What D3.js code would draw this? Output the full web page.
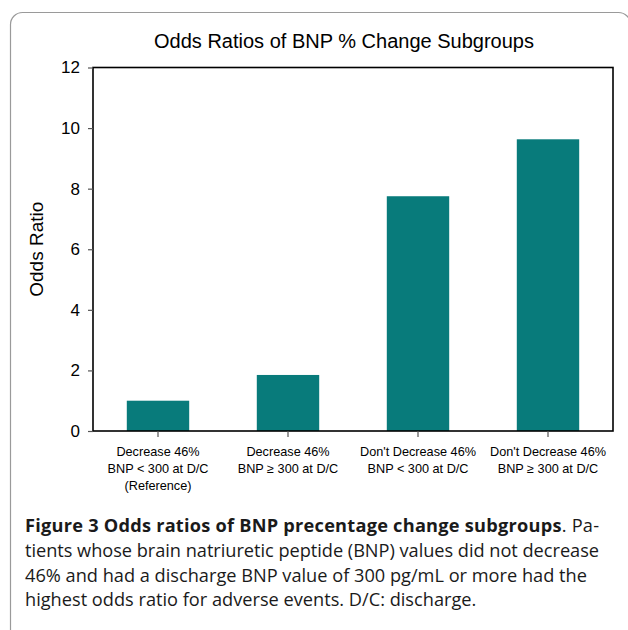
<!DOCTYPE html>
<html>
<head>
<meta charset="utf-8">
<script src="https://cdn.jsdelivr.net/npm/d3@7"></script>
<style>
  body { margin: 0; background: #fff; }
  svg { display: block; }
</style>
</head>
<body>
<div id="chart"></div>
<script>
  // chart values
  var categories = ["g1", "g2", "g3", "g4"];
  var categoryLabels = [
    ["Decrease 46%", "BNP < 300 at D/C", "(Reference)"],
    ["Decrease 46%", "BNP \u2265 300 at D/C"],
    ["Don't Decrease 46%", "BNP < 300 at D/C"],
    ["Don't Decrease 46%", "BNP \u2265 300 at D/C"]
  ];
  var oddsRatios = [1.0, 1.85, 7.75, 9.63];
  var yTicks = [0, 2, 4, 6, 8, 10, 12];

  var chartTitle = "Odds Ratios of BNP % Change Subgroups";
  var yTitle = "Odds Ratio";
  var captionBold = "Figure 3 Odds ratios of BNP precentage change subgroups";
  var captionLines = [
    ". Pa-",
    "tients whose brain natriuretic peptide (BNP) values did not decrease",
    "46% and had a discharge BNP value of 300 pg/mL or more had the",
    "highest odds ratio for adverse events. D/C: discharge."
  ];

  var W = 628, H = 630;
  var plot = { left: 93, right: 613, top: 67.5, bottom: 431 };

  var svg = d3.select("#chart").append("svg")
    .attr("width", W)
    .attr("height", H);

  // rounded frame round the figure
  svg.append("rect")
    .attr("x", 10.5)
    .attr("y", 12.5)
    .attr("width", 620)
    .attr("height", 630)
    .attr("rx", 12)
    .attr("fill", "none")
    .attr("stroke", "#9a9a9a")
    .attr("stroke-width", 1.2);

  var x = d3.scaleBand()
    .domain(categories)
    .range([plot.left, plot.right])
    .paddingInner(0.52)
    .paddingOuter(0.26);

  var y = d3.scaleLinear()
    .domain([0, 12])
    .range([plot.bottom, plot.top]);

  svg.append("text")
    .attr("x", 344)
    .attr("y", 48)
    .attr("text-anchor", "middle")
    .style("font-family", "'Liberation Sans', Arial, sans-serif")
    .style("font-size", "20px")
    .text(chartTitle);

  svg.selectAll("rect.bar")
    .data(oddsRatios)
    .enter().append("rect")
    .attr("class", "bar")
    .attr("x", function (d, i) { return x(categories[i]); })
    .attr("width", x.bandwidth())
    .attr("y", function (d) { return y(d); })
    .attr("height", function (d) { return y(0) - y(d); })
    .attr("fill", "#087b7b");

  // plot frame
  svg.append("rect")
    .attr("x", plot.left)
    .attr("y", plot.top)
    .attr("width", plot.right - plot.left)
    .attr("height", plot.bottom - plot.top)
    .attr("fill", "none")
    .attr("stroke", "#000")
    .attr("stroke-width", 1.6);

  var yAxis = svg.append("g")
    .attr("transform", "translate(" + plot.left + ",0)")
    .call(d3.axisLeft(y).tickValues(yTicks).tickSize(5).tickPadding(8).tickFormat(d3.format("d")));
  yAxis.select(".domain").remove();
  yAxis.selectAll(".tick line").attr("stroke", "#555").attr("stroke-width", 1.2);
  yAxis.selectAll(".tick text")
    .style("font-family", "'Liberation Sans', Arial, sans-serif")
    .style("font-size", "17px")
    .attr("fill", "#000");

  var xAxis = svg.append("g")
    .attr("transform", "translate(0," + plot.bottom + ")")
    .call(d3.axisBottom(x).tickSize(6).tickFormat(""));
  xAxis.select(".domain").remove();
  xAxis.selectAll(".tick line").attr("stroke", "#555").attr("stroke-width", 1.2);

  var labels = svg.append("g")
    .style("font-family", "'Liberation Sans', Arial, sans-serif")
    .style("font-size", "12.7px");
  categories.forEach(function (c, i) {
    var t = labels.append("text")
      .attr("text-anchor", "middle")
      .attr("x", x(c) + x.bandwidth() / 2)
      .attr("y", 456);
    categoryLabels[i].forEach(function (line, j) {
      t.append("tspan")
        .attr("x", x(c) + x.bandwidth() / 2)
        .attr("dy", j === 0 ? 0 : 16.8)
        .text(line);
    });
  });

  svg.append("text")
    .attr("transform", "translate(43," + ((plot.top + plot.bottom) / 2) + ") rotate(-90)")
    .attr("text-anchor", "middle")
    .style("font-family", "'Liberation Sans', Arial, sans-serif")
    .style("font-size", "19px")
    .text(yTitle);

  // caption, first two lines justified to the right edge
  var capLeft = 25, capRight = 599;
  var cap = svg.append("g")
    .style("font-family", "'Open Sans', 'Noto Sans', sans-serif")
    .style("font-size", "18.2px")
    .attr("fill", "#1a1a1a");
  var first = cap.append("text")
    .attr("x", capLeft).attr("y", 532)
    .attr("textLength", capRight - capLeft)
    .attr("lengthAdjust", "spacing");
  first.append("tspan").style("font-weight", "bold").text(captionBold);
  first.append("tspan").text(captionLines[0]);
  captionLines.slice(1).forEach(function (line, i) {
    var t = cap.append("text")
      .attr("x", capLeft)
      .attr("y", 557 + i * 24.5)
      .text(line);
    if (i === 0) t.attr("textLength", capRight - capLeft).attr("lengthAdjust", "spacing");
  });
</script>
</body>
</html>
